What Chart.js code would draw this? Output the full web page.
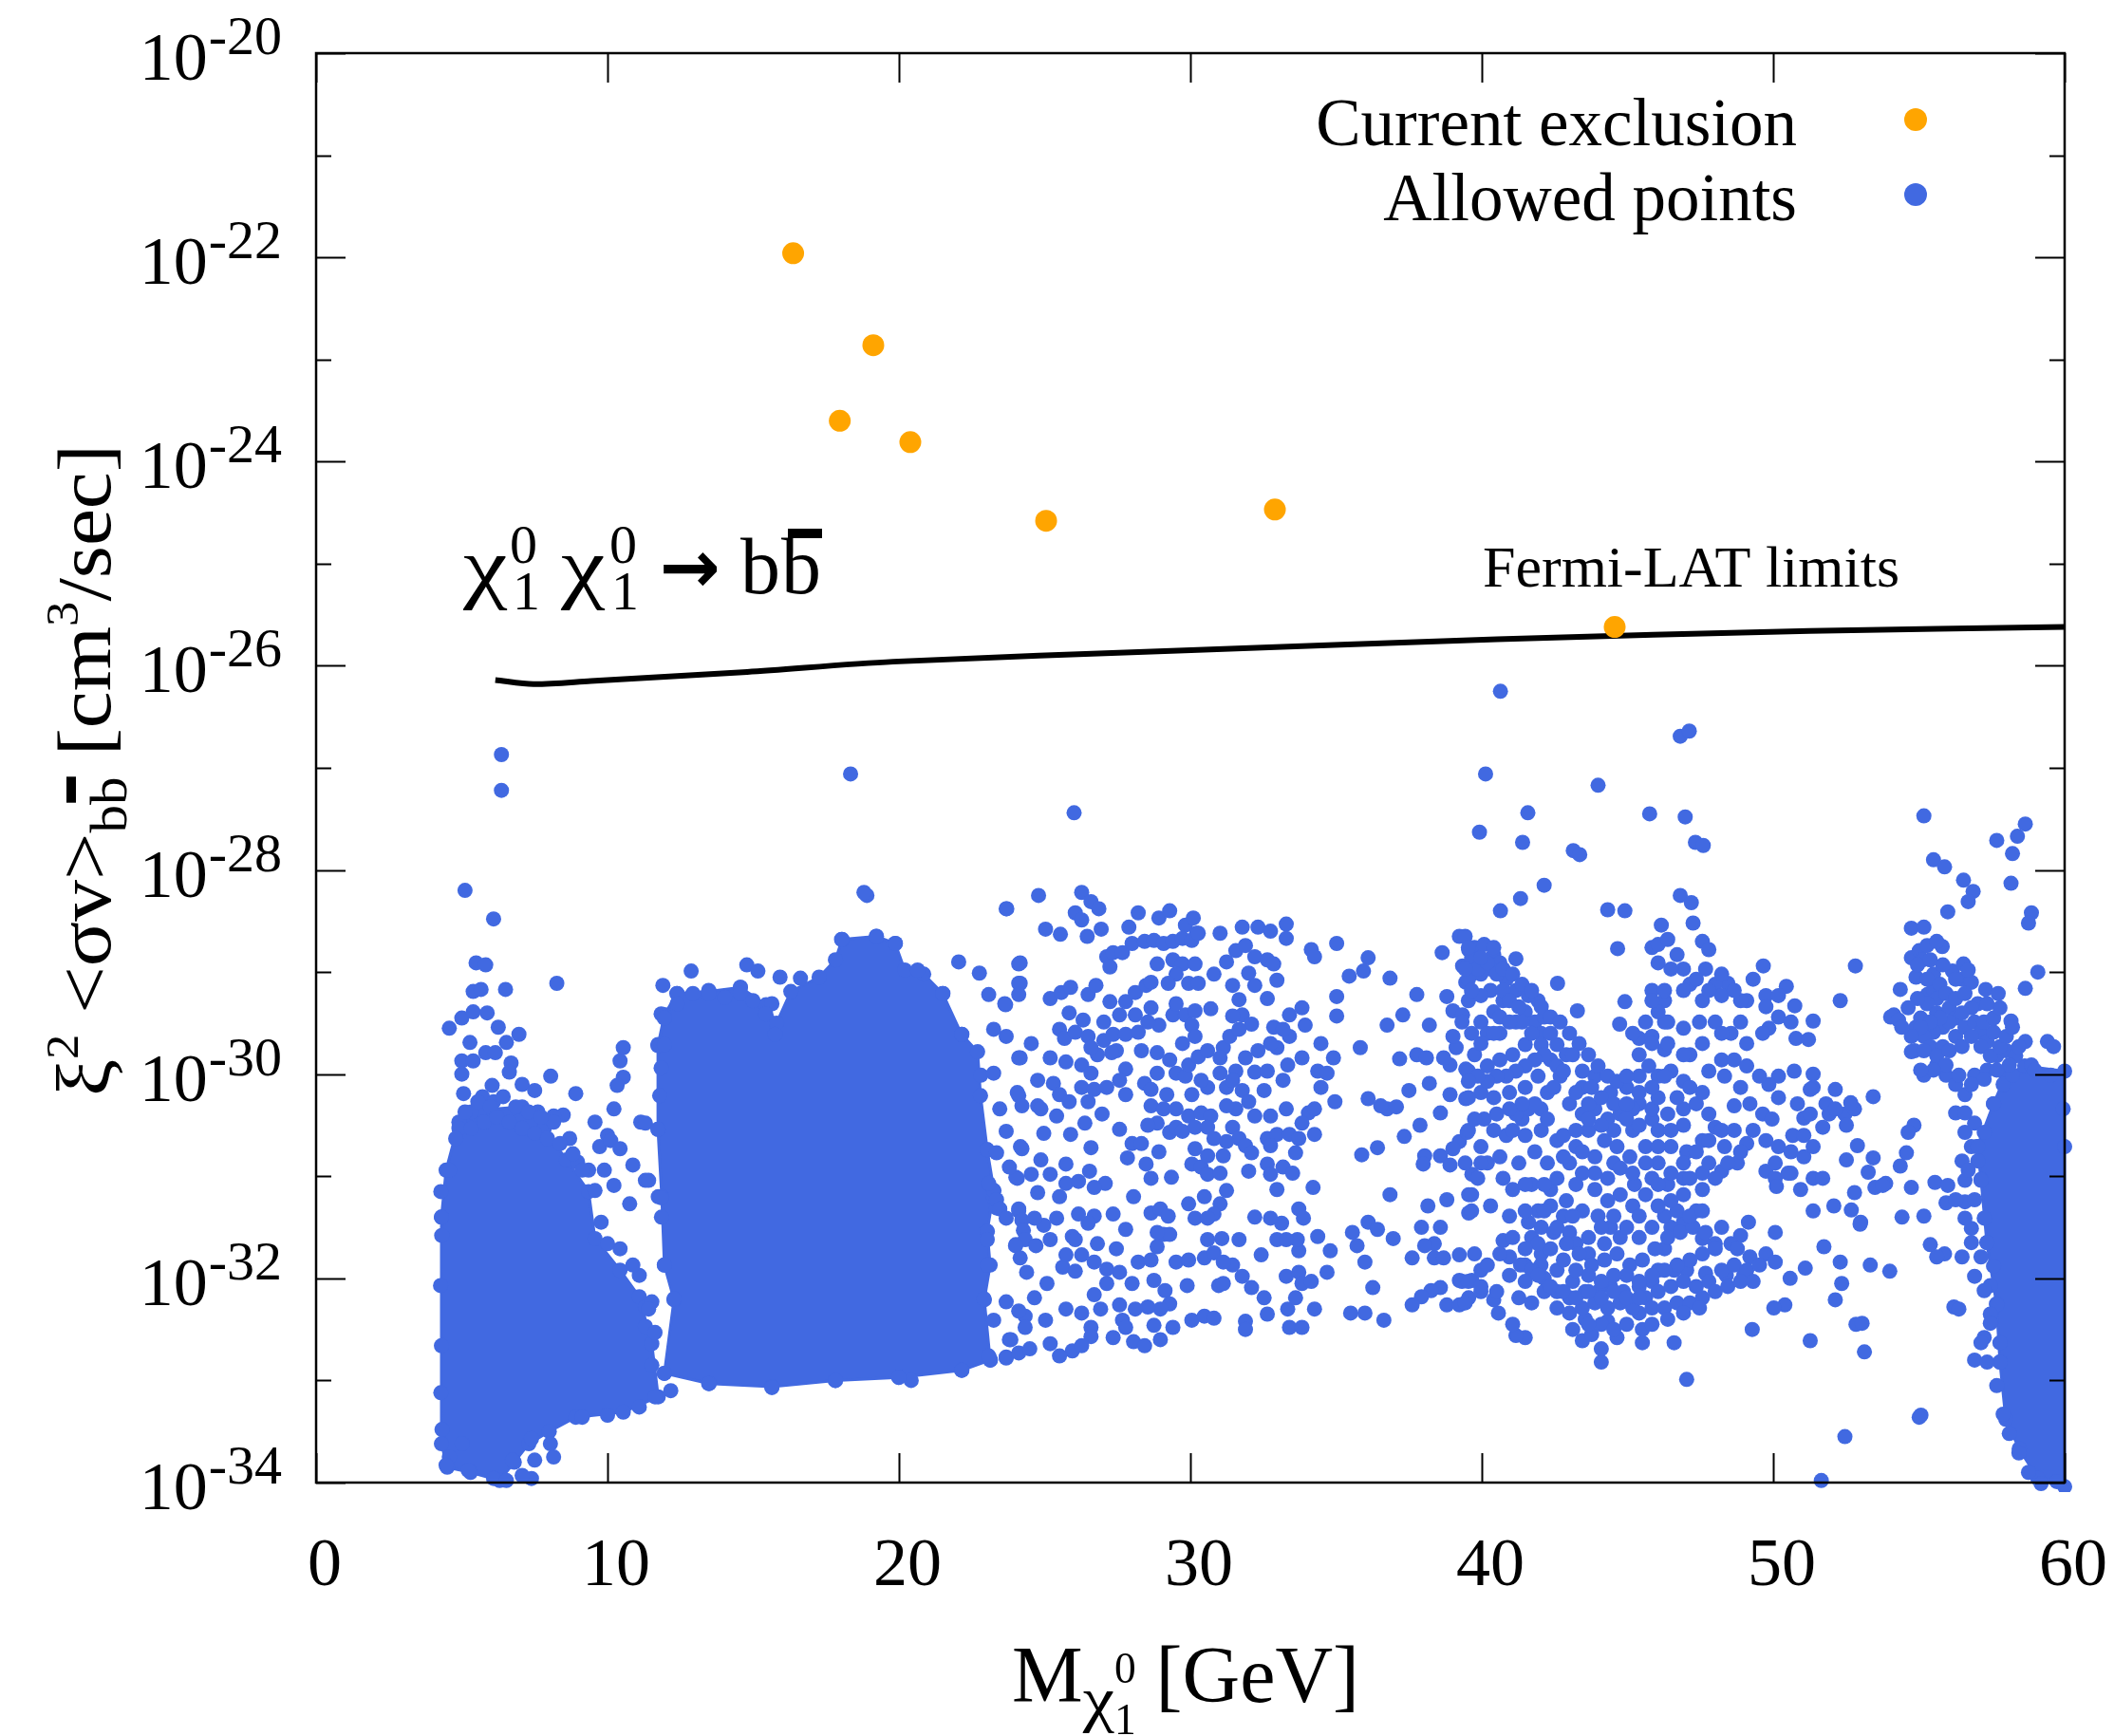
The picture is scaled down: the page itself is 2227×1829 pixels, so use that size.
<!DOCTYPE html>
<html>
<head>
<meta charset="utf-8">
<script src="https://cdn.jsdelivr.net/npm/chart.js@4.4.1/dist/chart.umd.min.js"></script>
<style>
  html, body { margin: 0; padding: 0; background: #fff; }
  #wrap { width: 2227px; height: 1829px; }
</style>
</head>
<body>
<div id="wrap"><canvas id="chart" width="2227" height="1829"></canvas></div>
<script>
var BLUE = '#4169e1';
var ORANGE = '#ffa500';
var SERIF = '"Liberation Serif", "Times New Roman", "DejaVu Serif", serif';

// axes
var xTicks = [0, 10, 20, 30, 40, 50, 60];
var yDecades = [-34, -33, -32, -31, -30, -29, -28, -27, -26, -25, -24, -23, -22, -21, -20];
var yLabelled = [-34, -32, -30, -28, -26, -24, -22, -20];

// excluded points: mass [GeV], log10 <sigma v>
var exclusionMass = [16.37, 19.12, 17.97, 20.39, 25.05, 32.90, 44.56];
var exclusionLogSigma = [-21.96, -22.86, -23.60, -23.81, -24.58, -24.47, -25.62];

// Fermi-LAT limit curve
var fermiMass = [6.15, 7.46, 9.43, 14.79, 19.80, 29.80, 40.52, 51.24, 60.0];
var fermiLogSigma = [-26.14, -26.18, -26.15, -26.06, -25.96, -25.85, -25.74, -25.66, -25.62];

// allowed points [mass, log10 <sigma v>], split by mass region
var allowedLowMass = [
  [6.36,-26.87],[6.36,-27.22],[5.11,-28.20],[6.09,-28.48],[5.49,-28.91],[5.82,-28.93],[8.26,-29.11],[5.39,-29.19],
  [5.66,-29.17],[6.50,-29.17],[4.57,-29.55],[5.00,-29.45],[5.39,-29.39],[5.87,-29.40],[5.28,-29.69],[6.25,-29.54],
  [6.53,-29.69],[6.96,-29.61],[5.00,-29.87],[5.39,-29.87],[5.00,-30.00],[5.82,-29.79],[6.15,-29.79],[6.69,-29.89],
  [6.63,-29.98],[8.05,-30.02],[8.91,-30.19],[5.06,-30.19],[6.04,-30.11],[5.71,-30.22],[7.07,-30.10],[7.50,-30.16],
  [8.48,-30.40],[8.15,-30.41],[8.97,-30.86],[9.57,-30.47],[10.00,-30.60],[10.22,-30.34],[10.54,-29.74],[10.43,-29.87],
  [10.54,-30.03],[10.33,-30.11],[11.14,-30.47],[9.73,-30.71],[10.11,-30.65],[10.43,-30.73],[9.89,-30.94],[10.22,-31.09],
  [10.87,-30.89],[11.30,-31.04],[10.76,-31.27],[11.74,-31.20],[11.85,-31.40],[12.17,-33.10],[8.15,-33.75],[7.50,-33.78],
  [4.57,-33.75],[7.39,-33.96],[4.46,-33.83],[5.01,-33.62],[5.22,-33.88],[6.09,-33.96],[6.53,-33.98],[7.07,-33.93],
  [6.74,-33.78],[7.39,-33.57],[8.04,-33.62],[9.13,-33.36],[10.00,-33.34],[11.09,-33.26],[11.63,-33.16],[11.52,-32.85],
  [11.30,-32.28],[11.52,-32.23],[11.09,-31.97],[10.87,-31.87],[10.43,-31.71],[10.00,-31.66],[9.78,-31.45],[4.57,-30.94],
  [4.90,-30.53],[5.33,-30.37],[6.09,-30.27],[7.61,-30.37],[8.15,-30.47],[8.70,-30.63],[9.35,-30.94],[9.57,-31.14],
  [4.28,-31.15],[4.31,-31.58],[4.27,-32.07],[4.30,-32.66],[4.28,-33.12],[4.32,-33.48],
  [5.11,-30.37],[5.55,-30.27],[5.98,-30.32],[6.42,-30.22],[6.85,-30.32],[7.29,-30.37],[7.72,-30.42],[4.79,-30.63],
  [5.33,-30.53],[5.77,-30.47],[6.20,-30.42],[6.63,-30.47],[7.07,-30.53],[7.50,-30.58],[7.94,-30.63],[8.37,-30.68],
  [8.81,-30.78],[9.13,-30.94]
];

var allowedMidMass = [
  [11.90,-29.13],[12.87,-28.99],[14.78,-28.93],[15.16,-28.99],[15.92,-29.05],[16.62,-29.06],[18.90,-28.25],[23.68,-28.38],
  [22.05,-28.90],[22.76,-29.01],[24.11,-28.92],[24.11,-29.11],[23.63,-29.31],[24.11,-29.84],[24.11,-30.21],[24.17,-30.71],
  [24.01,-31.01],[24.11,-31.34],[24.01,-31.67],[24.33,-32.37],[23.79,-32.60],[23.68,-32.77],[23.25,-31.21],[23.35,-31.31],
  [20.42,-33.00],[11.30,-30.48],[11.41,-31.04],[12.39,-29.21],[13.47,-29.18],[14.56,-29.15],[15.64,-29.31],[18.03,-28.68],
  [19.23,-28.65],[19.88,-28.72],[20.64,-28.98],[21.51,-29.21],[22.16,-29.61],[22.81,-30.01],[23.03,-30.74],[23.25,-31.14],
  [23.03,-31.54],[22.92,-32.20],[23.14,-32.80],[22.16,-32.90],[19.99,-32.97],[17.82,-33.00],[15.64,-33.07],[13.47,-33.03],
  [11.95,-32.93],[12.28,-32.20],[11.95,-31.87],[11.84,-31.21],[11.73,-30.54],[11.73,-29.71],[11.84,-29.41],[18.34,-27.06],
  [18.80,-28.22],[26.01,-27.44],[11.30,-32.47],[11.41,-32.30],[11.63,-32.53],
  [11.95,-29.45],[12.39,-29.31],[12.93,-29.21],[13.47,-29.21],[14.02,-29.25],[14.56,-29.21],[14.99,-29.28],[15.43,-29.41],
  [15.75,-29.61],[11.95,-29.71],[11.84,-29.94],[11.79,-30.21]
];

var allowedFlat = [
  [23.70,-28.38],[24.79,-28.25],[26.27,-28.22],[26.59,-28.31],[26.86,-28.38],[26.05,-28.42],[26.27,-28.49],[25.03,-28.58],
  [25.54,-28.63],[26.46,-28.65],[26.94,-28.58],[27.89,-28.56],[28.21,-28.42],[28.92,-28.47],[29.29,-28.40],[29.83,-28.54],
  [30.10,-28.47],[30.21,-28.62],[31.02,-28.62],[31.78,-28.56],[32.32,-28.56],[32.75,-28.60],[33.29,-28.53],[33.29,-28.67],
  [34.15,-28.78],[34.26,-28.85],[35.02,-28.72],[36.10,-28.86],[35.94,-28.99],[35.45,-29.04],[36.85,-29.06],[37.77,-29.22],
  [38.64,-28.81],[39.23,-28.65],[39.55,-28.78],[39.34,-28.94],[39.66,-29.02],[24.16,-28.91],[24.16,-29.11],[24.11,-29.22],
  [23.66,-29.32],[23.08,-29.22],[25.19,-29.26],[25.57,-29.20],[25.89,-29.15],[26.49,-29.22],[26.76,-29.13],[27.24,-29.29],
  [27.78,-29.29],[28.11,-29.20],[28.48,-29.13],[28.65,-29.10],[27.13,-28.85],[27.35,-28.81],[27.24,-28.95],[27.67,-28.81],
  [28.00,-28.72],[28.43,-28.70],[28.75,-28.69],[29.08,-28.72],[29.40,-28.70],[29.73,-28.67],[30.05,-28.69],[30.27,-28.62],
  [28.86,-28.92],[29.40,-28.88],[29.73,-28.92],[30.16,-28.92],[29.51,-29.02],[29.94,-29.11],[30.27,-29.11],[29.24,-29.11],
  [30.81,-29.02],[31.24,-28.90],[31.56,-28.79],[31.89,-28.74],[32.21,-28.85],[32.00,-29.01],[32.21,-29.13],[32.64,-28.88],
  [32.86,-28.92],[32.97,-29.08],[32.64,-29.26],[31.45,-29.13],[31.67,-29.27],[31.78,-29.42],[31.45,-29.43],[32.10,-29.51],
  [25.84,-29.40],[26.32,-29.47],[25.51,-29.56],[25.68,-29.65],[26.05,-29.59],[26.49,-29.63],[27.03,-29.67],[27.35,-29.61],
  [27.78,-29.61],[28.21,-29.59],[27.46,-29.77],[26.81,-29.81],[27.30,-29.79],[28.32,-29.77],[28.86,-29.79],[29.29,-29.86],
  [28.92,-29.52],[28.54,-29.49],[28.65,-29.35],[29.40,-29.42],[29.51,-29.31],[29.83,-29.42],[30.16,-29.38],[30.70,-29.36],
  [30.05,-29.52],[30.16,-29.63],[29.73,-29.70],[31.13,-29.74],[31.35,-29.63],[31.67,-29.56],[31.02,-29.84],[31.56,-29.97],
  [32.21,-29.98],[32.64,-29.97],[32.97,-29.74],[33.40,-29.63],[32.86,-29.54],[33.94,-29.52],[34.48,-29.70],[34.37,-29.97],
  [33.34,-29.91],[24.16,-29.84],[24.76,-30.06],[25.30,-30.09],[25.51,-30.20],[25.84,-30.27],[24.06,-30.18],[24.22,-30.31],
  [24.76,-30.31],[25.73,-29.88],[26.27,-29.91],[26.59,-29.99],[26.27,-30.13],[26.70,-30.15],[27.78,-29.95],[27.57,-30.06],
  [27.78,-30.20],[28.43,-30.09],[28.65,-30.15],[28.86,-29.99],[28.65,-30.31],[29.19,-30.20],[29.51,-29.99],[29.83,-30.02],
  [30.05,-30.20],[29.94,-29.91],[30.27,-29.83],[30.59,-30.13],[30.37,-30.06],[31.24,-30.13],[31.78,-30.16],[32.00,-30.27],
  [31.56,-30.34],[31.24,-30.31],[29.08,-30.34],[29.51,-30.34],[29.94,-30.41],[30.37,-30.38],[30.70,-30.41],[28.86,-30.48],
  [28.54,-30.50],[29.29,-30.57],[29.51,-30.52],[29.73,-30.56],[30.16,-30.52],[30.59,-30.52],[30.81,-30.63],[31.45,-30.52],
  [31.67,-30.63],[31.24,-30.66],[26.97,-30.39],[26.38,-30.48],[25.89,-30.59],[24.97,-30.58],[27.57,-30.54],[24.22,-30.73],
  [24.87,-30.84],[25.73,-30.88],[26.59,-30.72],[26.54,-30.95],[27.08,-31.07],[26.70,-31.11],[25.73,-31.07],[26.16,-31.05],
  [25.51,-31.20],[24.06,-31.02],[23.08,-31.07],[23.35,-31.23],[23.46,-31.32],[27.84,-30.82],[28.00,-30.68],[28.32,-30.68],
  [28.92,-30.76],[28.48,-30.88],[28.65,-31.02],[29.35,-31.01],[28.05,-31.20],[30.16,-30.73],[30.05,-30.88],[30.37,-30.91],
  [30.59,-30.98],[31.02,-30.97],[31.13,-30.80],[30.59,-30.80],[31.89,-30.70],[32.10,-30.77],[32.00,-30.95],[32.64,-30.63],
  [32.97,-30.59],[33.40,-30.59],[33.72,-30.63],[33.61,-30.77],[32.75,-30.70],[32.64,-30.88],[32.75,-30.98],[33.18,-30.91],
  [33.51,-30.97],[32.97,-31.13],[34.26,-30.59],[34.05,-30.38],[34.21,-31.11],[29.94,-31.27],[30.48,-31.20],[31.02,-31.27],
  [31.24,-31.14],[30.81,-31.37],[30.16,-31.41],[30.59,-31.41],[32.21,-31.40],[33.13,-31.46],[33.72,-31.32],[33.88,-31.41],
  [28.65,-31.36],[28.97,-31.32],[29.24,-31.39],[27.78,-31.52],[27.35,-31.37],[26.70,-31.39],[26.49,-31.46],[26.16,-31.37],
  [25.41,-31.41],[24.97,-31.48],[24.11,-31.32],[24.22,-31.43],[24.27,-31.53],[24.33,-31.62],[24.00,-31.68],[24.70,-31.68],
  [24.16,-31.80],[24.38,-31.94],[23.03,-31.62],[23.03,-31.87],[25.95,-31.59],[26.05,-31.62],[26.81,-31.66],[27.46,-31.71],
  [26.70,-31.84],[25.62,-31.89],[26.05,-31.93],[28.21,-31.84],[28.65,-31.82],[28.86,-31.69],[29.08,-31.57],[29.29,-31.57],
  [28.86,-31.55],[29.51,-31.84],[29.94,-31.82],[30.48,-31.80],[30.81,-31.75],[31.08,-31.61],[31.67,-31.62],[31.45,-31.87],
  [31.78,-31.98],[32.10,-32.09],[32.53,-32.19],[32.64,-32.35],[33.29,-31.98],[33.72,-31.94],[33.83,-32.05],[34.15,-32.03],
  [33.72,-31.73],[33.67,-31.62],[34.80,-31.73],[28.75,-32.02],[29.13,-32.12],[29.29,-32.25],[28.97,-32.30],[28.54,-32.28],
  [29.89,-32.07],[30.97,-32.07],[31.13,-32.05],[27.57,-32.26],[27.67,-32.41],[27.78,-32.48],[26.59,-32.48],[26.59,-32.57],
  [26.70,-32.16],[25.03,-32.41],[24.11,-32.32],[24.33,-32.48],[23.84,-32.60],[23.68,-32.78],[24.11,-32.73],[24.49,-32.69],
  [25.19,-32.64],[25.95,-32.71],[23.08,-32.76],[28.05,-32.62],[28.43,-32.66],[28.97,-32.60],[28.75,-32.46],[29.40,-32.48],
  [30.05,-32.41],[30.48,-32.37],[30.81,-32.39],[31.89,-32.42],[31.89,-32.50],[33.34,-32.30],[33.40,-32.48],[33.83,-32.48],
  [35.56,-31.55],[35.50,-32.34],[35.99,-32.34],[36.64,-32.41],[35.72,-31.68],[36.10,-31.45],[36.42,-31.52],[35.99,-31.84],
  [36.26,-32.09],[36.96,-31.61],[36.85,-31.18],[35.88,-30.79],[36.42,-30.72],[37.34,-30.61],[37.88,-30.50],[36.75,-30.34],
  [36.10,-30.24],[36.53,-30.31],[37.07,-30.32],[34.96,-30.27],[35.02,-29.24],[35.02,-29.43],[35.83,-29.74],[37.18,-29.85],
  [37.77,-29.81],[38.10,-29.84],[37.50,-30.16],[38.20,-30.09],[38.20,-29.52],[37.29,-29.42],[36.75,-29.52],[38.58,-30.38],
  [38.91,-30.20],[38.91,-29.91],[38.69,-29.84],[39.12,-29.74],[39.01,-29.63],[38.80,-29.24],[39.01,-29.38],[39.34,-29.42],
  [39.45,-29.10],[39.66,-29.20],[39.45,-29.95],[39.55,-29.99],[39.45,-30.24],[39.23,-30.66],[39.50,-30.57],[39.01,-30.73],
  [39.66,-30.98],[39.55,-31.18],[39.55,-31.36],[38.80,-31.23],[38.15,-31.29],[38.04,-30.80],[38.58,-30.80],[38.91,-30.89],
  [37.99,-30.88],[37.93,-31.50],[38.58,-31.50],[38.37,-31.66],[38.04,-31.68],[37.61,-31.80],[38.37,-31.80],[38.69,-31.80],
  [39.23,-31.77],[39.23,-32.02],[39.66,-32.02],[38.58,-32.09],[38.26,-32.12],[37.93,-32.18],[38.80,-32.26],[37.61,-32.26],
  [39.23,-32.26],[39.55,-32.19],
  [23.25,-29.99],[23.46,-30.34],[23.68,-30.56],[23.35,-30.77],[23.79,-30.91],[24.54,-30.98],[25.19,-30.98],[24.76,-31.16],
  [23.68,-31.41],[24.65,-31.41],[25.19,-31.62],[25.73,-31.77],[26.27,-31.77],[25.08,-32.05],[24.65,-32.19],[23.68,-32.23],
  [23.25,-32.41],[25.73,-32.30],[26.27,-32.34],[26.92,-32.30],[27.13,-32.05],[27.57,-31.94],[27.13,-31.91],[28.00,-32.05],
  [28.11,-32.30],[27.35,-32.58],[26.27,-32.66],[25.51,-32.76],[24.87,-30.34],[25.41,-30.41],[26.49,-30.27],[27.13,-30.13],
  [25.19,-29.84],[24.54,-29.70],[23.68,-29.63],[23.25,-29.56],[26.59,-29.74],[27.03,-29.49],[27.57,-29.42],[28.11,-29.42],
  [30.59,-29.77],[31.02,-29.99],[31.45,-30.06],[31.89,-29.84],[32.32,-29.77],[32.75,-29.70],[33.18,-29.56],[33.40,-29.42],
  [33.83,-29.35],[33.83,-29.84],[33.18,-30.06],[32.53,-30.16],[32.21,-30.41],[32.75,-30.41],[33.29,-30.34],[33.83,-30.48],
  [34.26,-30.34],[34.48,-30.13],[34.69,-29.99],[34.91,-29.84],[30.59,-31.62],[31.13,-31.84],[32.43,-31.77],[32.97,-31.62],
  [32.75,-31.41],[33.29,-31.62],[34.37,-31.59],[34.69,-31.94],[34.26,-32.30],[33.61,-32.19]
];

var allowedZPole = [
  [40.64,-26.25],[40.13,-27.06],[39.92,-27.63],[41.58,-27.44],[41.40,-27.73],[43.99,-27.17],[43.14,-27.81],[43.36,-27.85],
  [42.14,-28.15],[41.33,-28.28],[40.64,-28.40],[45.76,-27.45],[46.98,-27.48],[46.81,-26.69],[47.12,-26.64],[47.33,-27.73],
  [47.60,-27.76],[46.81,-28.25],[47.19,-28.32],[44.32,-28.39],[44.91,-28.40],[47.25,-28.52],[46.16,-28.54],[44.66,-28.77],
  [41.17,-28.87],[42.60,-29.11],[43.28,-29.38],[44.91,-29.29],[44.73,-29.51],[52.82,-28.94],[52.30,-29.28],[49.66,-28.94],
  [50.45,-29.14],[50.74,-29.33],[51.37,-29.48],[50.78,-29.65],[51.21,-29.66],[48.44,-29.11],[49.09,-29.28],[49.75,-29.23],
  [50.18,-29.44],[49.85,-29.55],[45.84,-28.76],[46.05,-28.73],[46.38,-28.68],[46.70,-28.83],[46.92,-28.97],[47.57,-28.70],
  [47.79,-28.78],[47.68,-28.97],[48.01,-29.12],[45.84,-29.18],[46.27,-29.28],[47.14,-29.12],[47.57,-29.28],[48.23,-29.23],
  [48.88,-29.28],[46.38,-29.49],[46.92,-29.55],[47.47,-29.49],[48.01,-29.49],[48.55,-29.60],[49.09,-29.70],[48.23,-29.86],
  [47.79,-29.97],[47.14,-29.81],[45.40,-29.65],[45.84,-29.63],[46.27,-29.76],[45.73,-29.92],[46.05,-30.02],[46.49,-29.97],
  [46.92,-30.07],[48.66,-29.86],[48.33,-30.02],[49.09,-29.92],[50.18,-30.02],[50.72,-29.97],[51.37,-30.00],[52.13,-30.15],
  [51.37,-30.13],[49.85,-30.10],[49.20,-30.29],[48.66,-30.31],[49.64,-30.39],[49.96,-30.44],[51.05,-30.43],[51.70,-30.52],
  [51.92,-30.39],[52.46,-30.39],[52.79,-30.34],[52.51,-30.50],[48.01,-30.52],[47.57,-30.65],[48.33,-30.71],[47.03,-30.76],
  [46.49,-30.71],[46.05,-30.87],[46.92,-30.50],[46.38,-30.39],[45.84,-30.44],[45.40,-30.29],[45.18,-30.55],[45.62,-30.71],
  [46.05,-30.55],[49.09,-30.68],[48.77,-30.87],[48.23,-30.95],[47.57,-30.97],[46.92,-31.02],[46.38,-31.08],[45.84,-31.02],
  [45.24,-31.08],[49.75,-30.95],[50.07,-31.02],[50.61,-30.97],[51.05,-30.81],[51.37,-30.71],[50.67,-30.60],[50.07,-30.87],
  [50.51,-30.97],[50.94,-31.13],[51.37,-31.02],[51.70,-31.02],[52.51,-30.84],[52.79,-31.16],[53.00,-31.45],[51.37,-31.34],
  [52.08,-31.29],[52.68,-31.33],[50.07,-31.55],[49.15,-31.45],[48.88,-31.58],[48.55,-31.66],[51.10,-31.90],[52.30,-31.84],
  [52.35,-32.05],[52.13,-32.21],[52.84,-32.45],[50.40,-32.26],[48.99,-31.97],[48.39,-31.97],[47.68,-31.95],[47.03,-31.92],
  [46.60,-31.92],[49.75,-31.76],[50.07,-31.84],[49.20,-31.79],[48.77,-31.71],[48.23,-31.50],[48.01,-31.66],[47.57,-31.61],
  [47.36,-31.34],[46.92,-31.45],[46.49,-31.50],[46.27,-31.71],[46.05,-31.92],[45.84,-32.03],[45.40,-32.08],[44.86,-32.13],
  [44.42,-32.08],[43.99,-32.13],[43.55,-32.13],[43.12,-32.03],[42.58,-31.92],[42.03,-31.87],[41.49,-31.87],[45.40,-32.34],
  [45.51,-32.50],[45.51,-32.63],[46.60,-32.63],[47.03,-32.99],[44.10,-32.82],[44.10,-32.69],[43.45,-32.61],[43.77,-32.55],
  [44.32,-32.42],[44.64,-32.58],[43.55,-32.40],[41.49,-32.58],[41.17,-32.56],[41.06,-32.45],[40.57,-32.34],[40.41,-32.21],
  [39.97,-32.13],[39.43,-32.24],[39.32,-32.03],[39.54,-32.03],[39.97,-31.92],[40.73,-31.63],[40.95,-31.79],[41.33,-31.87],
  [41.71,-31.92],[42.14,-32.00],[42.58,-32.13],[43.01,-32.19],[42.04,-31.76],[41.71,-31.60],[41.60,-31.45],[41.93,-31.34],
  [42.36,-31.29],[42.80,-31.39],[43.01,-31.55],[43.23,-31.66],[43.66,-31.76],[44.21,-31.66],[44.75,-31.60],[44.42,-31.50],
  [43.99,-31.39],[43.45,-31.34],[42.90,-31.24],[42.36,-31.13],[41.71,-31.08],[41.06,-31.13],[40.30,-31.29],[39.65,-31.34],
  [39.65,-31.18],[39.86,-31.02],[39.43,-30.87],[40.19,-30.87],[40.62,-30.81],[41.27,-30.87],[41.82,-30.76],[42.25,-30.87],
  [42.58,-30.65],[42.04,-30.55],[41.38,-30.44],[40.84,-30.60],[39.97,-30.71],[39.54,-30.55],[43.45,-30.39],[43.88,-30.34],
  [44.32,-30.44],[44.75,-30.39],[45.18,-30.34],[43.66,-30.55],[44.21,-30.65],[44.64,-30.71],[45.08,-30.81],[44.53,-30.87],
  [43.88,-30.81],[43.23,-30.71],[42.80,-30.60],[43.01,-30.29],[43.45,-30.13],[43.88,-30.02],[44.42,-30.18],[44.97,-30.13],
  [45.40,-30.02],[39.43,-28.65],[39.75,-28.76],[40.08,-28.73],[40.41,-28.83],[40.62,-28.91],[40.30,-28.97],[39.97,-29.02],
  [39.54,-29.07],[40.84,-29.07],[41.17,-29.18],[40.73,-29.28],[40.41,-29.39],[39.97,-29.49],[39.54,-29.28],[39.32,-29.49],
  [40.19,-29.60],[40.62,-29.60],[41.17,-29.49],[41.49,-29.39],[41.82,-29.49],[42.03,-29.60],[41.49,-29.71],[41.06,-29.81],
  [40.62,-29.86],[40.19,-29.92],[39.75,-29.81],[39.54,-29.97],[39.97,-30.18],[40.41,-30.23],[40.95,-30.18],[41.49,-30.13],
  [41.93,-30.02],[42.36,-29.86],[42.58,-29.71],[42.90,-29.81],[42.69,-30.02],[42.25,-30.18],[42.03,-30.34],[41.60,-30.34],
  [41.17,-30.39],[41.93,-29.28],[42.14,-29.44],[39.54,-30.23],[52.46,-33.55],[51.65,-33.98],[50.11,-31.10],[51.27,-30.15],
  [52.66,-30.28],[52.89,-30.70],[53.26,-30.96],[50.58,-32.00],[51.74,-31.69],[52.98,-31.47],[53.86,-31.07],[54.00,-31.93],
  [53.13,-32.72],[51.27,-32.61],[50.02,-32.29],[49.28,-32.50],
  [39.65,-28.86],[39.86,-28.97],[40.19,-28.91],[40.51,-29.02],[40.30,-29.18],[39.97,-29.23],[39.65,-29.18],[39.43,-28.97],
  [40.73,-29.18],[40.95,-29.28],[41.27,-29.34],[41.60,-29.23],[41.38,-29.49],[41.71,-29.60],[42.04,-29.71],[42.36,-29.60],
  [42.14,-29.81],[41.82,-29.86],[41.49,-29.92],[41.17,-29.97],[40.84,-30.02],[40.51,-30.02],[40.19,-30.07],[39.86,-30.02],
  [39.54,-30.07],[40.62,-29.44],[40.95,-29.49],[40.41,-29.60],[39.97,-29.70],[39.65,-29.60],[42.58,-29.92],[42.80,-29.97],
  [42.47,-30.13],[42.25,-30.44],[41.82,-30.29],[41.38,-30.29],[40.95,-30.34],[40.51,-30.39],[40.08,-30.44],[39.75,-30.44],
  [40.41,-30.55],[41.06,-30.55],[41.49,-30.60],[39.97,-30.87],[40.73,-31.02],[41.49,-31.08],
  [43.23,-30.18],[43.66,-30.29],[44.10,-30.23],[44.53,-30.29],[44.97,-30.44],[45.40,-30.50],[45.84,-30.34],[46.05,-30.23],
  [46.27,-30.02],[45.84,-30.13],[45.40,-30.18],[44.97,-30.29],[44.53,-30.55],[44.10,-30.50],[43.66,-30.44],[43.23,-30.55],
  [43.45,-30.76],[43.88,-30.97],[44.32,-31.02],[44.75,-30.92],[45.18,-30.97],[45.62,-30.87],[46.05,-30.71],[46.49,-30.55],
  [46.92,-30.34],[47.36,-30.29],[47.79,-30.39],[47.57,-30.18],[47.14,-30.13],[46.70,-30.23],[45.40,-29.81],[45.84,-29.70],
  [46.27,-29.49],[46.05,-29.39],[45.84,-29.28],[46.27,-29.18],[45.62,-29.49],[45.18,-29.60],
  [42.04,-31.50],[42.47,-31.55],[42.90,-31.66],[43.34,-31.76],[43.77,-31.87],[44.21,-31.82],[44.64,-31.76],[45.08,-31.87],
  [45.51,-31.82],[45.94,-31.71],[46.38,-31.60],[46.81,-31.55],[47.25,-31.50],[47.68,-31.55],[48.01,-31.71],[47.57,-31.76],
  [47.14,-31.82],[46.70,-31.87],[46.27,-31.92],[45.84,-31.97],[45.40,-32.03],[44.97,-31.97],[44.53,-31.97],[44.10,-32.03],
  [43.66,-31.97],[43.23,-31.92],[42.80,-31.82],[42.36,-31.71],[41.93,-31.66],[41.49,-31.71],[41.06,-31.60],[40.62,-31.76],
  [40.19,-31.87],[39.75,-31.76],[42.14,-32.13],[42.58,-32.29],[43.01,-32.34],[43.45,-32.29],[43.88,-32.24],[44.32,-32.29],
  [44.75,-32.24],[45.18,-32.29],[45.62,-32.19],[46.05,-32.13],[46.49,-32.08],[46.92,-32.03],[47.36,-32.08],[47.79,-32.03],
  [48.23,-31.92],[48.66,-31.87],[49.09,-31.92],[49.53,-31.87],[44.10,-32.45],[44.53,-32.50],[44.97,-32.45],[43.66,-31.60],
  [44.10,-31.50],[44.53,-31.39],[44.97,-31.50],[45.40,-31.60],[45.84,-31.50],[46.27,-31.39],[46.70,-31.34],[47.14,-31.39],
  [47.57,-31.34],[42.58,-31.50],[43.12,-31.39],[42.14,-31.34],[41.49,-31.34],[40.95,-31.39],
  [46.05,-28.91],[46.49,-28.97],[46.92,-29.18],[47.36,-29.07],[47.79,-29.18],[48.23,-29.02],[48.66,-29.18],[49.31,-29.07],
  [49.75,-29.34],[50.18,-29.23],[50.61,-29.49],[49.64,-29.60],[48.88,-29.49],[48.23,-29.60],[47.57,-29.70],[46.92,-29.81],
  [46.38,-29.70],[48.88,-30.13],[49.53,-30.02],[50.18,-30.23],[50.83,-30.29],[51.27,-30.39],[51.81,-30.29],[52.13,-30.34],
  [43.01,-30.87],[43.45,-30.97],[43.88,-31.13],[44.32,-31.24],[44.75,-31.18],[45.18,-31.29],[45.62,-31.18],[46.05,-31.08],
  [46.49,-30.97],[46.92,-30.87],[47.36,-30.76],[47.79,-30.65],[48.23,-30.55],[48.66,-30.55],[46.05,-31.29],[46.92,-31.18],
  [47.57,-31.13],[48.01,-31.02],[48.44,-30.87],[48.88,-30.76],[49.31,-30.55],[49.75,-30.65],[50.18,-30.71],[50.61,-30.76],
  [51.05,-30.60],[43.23,-31.08],[42.58,-31.02],[42.14,-31.08],[42.80,-30.81],[45.40,-31.39],[46.49,-31.24],[47.14,-31.02],
  [47.79,-30.87],
  [39.54,-28.76],[39.97,-28.86],[40.41,-28.76],[40.73,-28.97],[41.06,-29.02],[41.38,-29.12],[41.71,-29.18],[42.04,-29.34],
  [42.36,-29.44],[42.69,-29.49],[43.01,-29.60],[43.34,-29.70],[43.66,-29.81],[43.99,-29.92],[44.32,-30.02],[44.64,-30.07],
  [44.97,-30.02],[43.12,-29.81],[43.45,-29.97],[43.77,-30.13],
  [40.95,-31.97],[41.49,-32.03],[41.93,-31.97],[42.36,-32.08],[42.80,-32.13],[43.23,-32.19],[43.66,-32.13],[44.10,-32.19],
  [44.53,-32.13],[44.97,-32.19],[45.40,-32.19],[45.84,-32.29],[46.27,-32.29],[46.70,-32.24],[47.14,-32.24],[47.57,-32.19],
  [48.01,-32.13],[48.44,-32.08],[48.88,-32.03],[49.31,-32.03],[43.12,-32.50],[43.66,-32.45],[45.84,-32.45],[46.38,-32.40],
  [46.92,-32.34],[47.47,-32.29],[40.51,-32.13],[39.97,-32.08],[41.27,-32.19],[41.71,-32.24]
];

var allowedHiggsPole = [
  [54.14,-29.42],[55.29,-29.22],[54.74,-29.78],[54.42,-31.40],[54.83,-30.50],[55.07,-33.34],
  [55.17,-27.47],[55.50,-27.90],[55.88,-27.97],[56.53,-28.10],[56.86,-28.21],[56.69,-28.31],[55.99,-28.41],[54.74,-28.57],
  [55.17,-28.56],[54.74,-28.86],[55.01,-28.79],[55.12,-28.88],[55.80,-28.75],[54.90,-29.05],[54.36,-29.17],[54.03,-29.44],
  [54.30,-29.47],[55.50,-29.02],[56.15,-28.99],[56.53,-28.92],[56.48,-29.07],[56.80,-29.10],[57.29,-29.17],[57.72,-29.21],
  [57.67,-27.71],[58.21,-27.84],[58.16,-28.13],[58.38,-27.67],[58.65,-27.55],[58.86,-28.42],[58.76,-28.52],[59.08,-29.00],
  [58.65,-29.16],[58.16,-29.48],[55.50,-29.17],[55.61,-29.26],[55.28,-29.31],[55.06,-29.45],[55.61,-29.40],[56.04,-29.35],
  [56.26,-29.45],[55.82,-29.54],[55.50,-29.59],[55.17,-29.63],[54.90,-29.54],[54.85,-29.77],[55.39,-29.73],[55.82,-29.73],
  [56.26,-29.63],[56.58,-29.54],[56.91,-29.49],[57.13,-29.59],[57.34,-29.68],[57.56,-29.59],[57.02,-29.31],[57.23,-29.49],
  [55.17,-30.01],[55.61,-29.91],[55.93,-30.01],[56.26,-30.10],[56.58,-30.20],[56.91,-30.01],[57.34,-29.96],[57.67,-29.82],
  [58.00,-29.77],[58.32,-29.82],[58.65,-29.68],[58.86,-29.91],[59.41,-29.68],[59.62,-29.73],[53.43,-30.22],[54.63,-30.57],
  [54.57,-30.77],[54.36,-30.90],[53.43,-30.82],[53.49,-31.11],[53.76,-31.09],[54.74,-31.11],[55.55,-31.06],[55.99,-31.09],
  [55.93,-31.26],[56.58,-31.25],[55.17,-31.39],[55.39,-31.67],[55.88,-31.76],[55.61,-31.79],[53.33,-31.87],[53.05,-32.44],
  [56.20,-32.28],[56.37,-32.30],[57.24,-32.58],[57.13,-32.63],[56.91,-32.80],[55.01,-33.36],[56.58,-31.04],[56.80,-31.51],
  [57.13,-31.79],[57.45,-32.07],[56.48,-30.85],[56.80,-30.71],[56.58,-30.57],[56.26,-30.38],[57.13,-31.04],[57.02,-30.71],
  [57.34,-31.65],[57.56,-31.88],[57.67,-32.26],[57.78,-32.63],[57.67,-33.05],[57.89,-33.33],[58.10,-33.52],[58.43,-33.71],
  [58.76,-33.90],[59.19,-34.01],[59.73,-33.99],[57.78,-32.82],[57.45,-32.35],[57.89,-30.10],[58.21,-30.01],[58.97,-29.96],
  [59.52,-30.01],[59.95,-30.34],[60.00,-30.71],
  [54.95,-28.93],[55.28,-29.07],[55.72,-29.12],[55.93,-29.21],[56.26,-29.26],[56.58,-29.21],[56.80,-29.35],[56.48,-29.40],
  [56.04,-29.49],[55.72,-29.45],[55.39,-29.49],[55.06,-29.54],[54.74,-29.63],[55.17,-29.77],[55.61,-29.82],[56.04,-29.77],
  [56.48,-29.73],[56.80,-29.63],[57.13,-29.73],[57.45,-29.82],[57.78,-29.73],[58.00,-29.63],[58.21,-29.54],[58.43,-29.73],
  [58.10,-29.91],[57.67,-29.96],[57.24,-30.05],[56.80,-30.10],[56.37,-30.01],[55.93,-29.91],[55.50,-29.96],[55.06,-29.96],
  [57.56,-29.45],[57.78,-29.35],[57.34,-29.31],[56.69,-28.98],[56.26,-29.07],[55.82,-28.93],[55.39,-28.88],[55.28,-28.74],
  [55.61,-28.70],[54.95,-29.26],[54.63,-29.35],[54.41,-29.54],
  [56.58,-30.38],[56.91,-30.48],[57.24,-30.57],[57.02,-30.85],[56.69,-30.94],[56.91,-31.23],[57.24,-31.41],[56.80,-31.65],
  [56.58,-31.41],[56.26,-31.23],[56.48,-31.79],[56.91,-31.98],[57.24,-32.12],[57.45,-32.44],[57.34,-32.82]
];

// outlines of regions where allowed points overlap into a solid patch
var denseLowMass = [
  [4.30,-31.40],[4.46,-30.94],[4.90,-30.47],[5.66,-30.35],[7.07,-30.32],[7.83,-30.53],[8.59,-30.84],[9.35,-31.15],
  [9.57,-31.61],[10.43,-31.92],[11.09,-32.18],[11.52,-32.64],[11.74,-33.16],[10.54,-33.31],[8.91,-33.36],[8.00,-33.50],
  [7.30,-33.62],[6.80,-33.80],[6.30,-33.98],[5.30,-33.90],[4.50,-33.85],[4.30,-33.62],[4.30,-31.40]
];
var denseMidMass = [
  [11.95,-29.42],[12.38,-29.21],[13.49,-29.19],[14.56,-29.15],[15.44,-29.32],[15.80,-29.50],[16.29,-29.19],[17.26,-29.05],
  [17.82,-28.88],[18.05,-28.68],[19.22,-28.65],[19.87,-28.72],[20.20,-28.98],[20.85,-29.02],[21.50,-29.21],[22.15,-29.61],
  [22.70,-29.78],[22.80,-30.21],[23.03,-30.74],[23.26,-31.14],[23.03,-31.54],[23.13,-31.87],[22.93,-32.21],[23.13,-32.80],
  [22.15,-32.90],[20.00,-32.97],[17.82,-33.00],[15.64,-33.06],[13.49,-33.03],[11.95,-32.93],[12.28,-32.21],[11.95,-31.87],
  [11.86,-31.20],[11.73,-30.54],[11.73,-29.72],[11.95,-29.42]
];
var denseHiggsPole = [
  [57.56,-30.29],[57.98,-30.01],[58.63,-29.92],[60.00,-29.97],[60.00,-34.04],[59.08,-33.96],[58.44,-33.67],[57.98,-33.38],
  [57.78,-32.82],[57.66,-32.25],[57.33,-31.65],[57.13,-31.03],[57.00,-30.71],[57.56,-30.29]
];

function toXY(pairs) {
  return pairs.map(function (p) {
    return { x: p[0], y: Math.pow(10, p[1]) };
  });
}

function zipXY(masses, logs) {
  return masses.map(function (m, i) {
    return { x: m, y: Math.pow(10, logs[i]) };
  });
}

function font(size, family, weight) {
  return (weight ? weight + ' ' : '') + size + 'px ' + (family || SERIF);
}

function drawText(ctx, str, x, y, size, opts) {
  opts = opts || {};
  ctx.save();
  ctx.translate(x, y);
  if (opts.sx) ctx.scale(opts.sx, 1);
  ctx.font = font(size, opts.family, opts.weight);
  ctx.textAlign = opts.align || 'left';
  ctx.textBaseline = 'alphabetic';
  if (opts.maxWidth) {
    ctx.fillText(str, 0, 0, opts.maxWidth);
  } else {
    ctx.fillText(str, 0, 0);
  }
  ctx.restore();
}

// draws runs of text (with sub/superscripts) from 0,0 on the current baseline, squeezed to fitWidth
function drawRuns(ctx, runs, fitWidth) {
  var total = 0;
  runs.forEach(function (r) {
    ctx.font = font(r.size);
    r.width = ctx.measureText(r.text).width * (r.sx || 1);
    if (!r.stack) total += r.width;
  });
  var k = fitWidth / total;
  ctx.save();
  ctx.scale(k, 1);
  ctx.textAlign = 'left';
  ctx.textBaseline = 'alphabetic';
  var x = 0;
  runs.forEach(function (r) {
    ctx.save();
    ctx.translate(x, r.dy || 0);
    if (r.sx) ctx.scale(r.sx, 1);
    ctx.font = font(r.size);
    ctx.fillText(r.text, 0, 0);
    ctx.restore();
    if (r.bar) {
      ctx.fillRect(x + r.bar[0], r.bar[1], r.bar[2], r.bar[3]);
    }
    if (!r.stack) x += r.width;
  });
  ctx.restore();
}

var decorations = {
  id: 'decorations',
  afterDatasetsDraw: function (chart) {
    var ctx = chart.ctx;
    var area = chart.chartArea;
    var xs = chart.scales.x;
    var ys = chart.scales.y;
    ctx.save();
    ctx.strokeStyle = '#000';
    ctx.lineWidth = 2;
    ctx.beginPath();
    xTicks.forEach(function (v) {
      var px = Math.round(xs.getPixelForValue(v)) + 0.5;
      ctx.moveTo(px, area.bottom);
      ctx.lineTo(px, area.bottom - 31);
      ctx.moveTo(px, area.top);
      ctx.lineTo(px, area.top + 31);
    });
    yDecades.forEach(function (e) {
      var py = Math.round(ys.getPixelForValue(Math.pow(10, e))) + 0.5;
      var len = yLabelled.indexOf(e) >= 0 ? 31 : 16;
      ctx.moveTo(area.left, py);
      ctx.lineTo(area.left + len, py);
      ctx.moveTo(area.right, py);
      ctx.lineTo(area.right - len, py);
    });
    ctx.stroke();
    ctx.lineWidth = 2.5;
    ctx.strokeRect(area.left, area.top, area.right - area.left, area.bottom - area.top);
    ctx.restore();
  },
  afterDraw: function (chart) {
    var ctx = chart.ctx;
    var area = chart.chartArea;
    var xs = chart.scales.x;
    var ys = chart.scales.y;
    ctx.save();
    ctx.fillStyle = '#000';

    // x tick labels
    xTicks.forEach(function (v) {
      drawText(ctx, String(v), xs.getPixelForValue(v) + 9, area.bottom + 108, 72, { align: 'center' });
    });

    // y tick labels 10^n
    yLabelled.forEach(function (e) {
      var py = ys.getPixelForValue(Math.pow(10, e));
      var exp = String(e);
      ctx.font = font(58);
      var sw = ctx.measureText(exp).width;
      drawText(ctx, exp, 297, py + 1, 58, { align: 'right' });
      drawText(ctx, '10', 297 - sw - 1, py + 28, 72, { align: 'right' });
    });

    // x axis title
    ctx.save();
    ctx.translate(1066, 1793);
    drawRuns(ctx, [
      { text: 'M', size: 85 },
      { text: '\u03c7', size: 66, dy: 19, sx: 1.15 },
      { text: '0', size: 46, dy: -20, stack: true },
      { text: '1', size: 46, dy: 34 },
      { text: ' [GeV]', size: 85 }
    ], 366);
    ctx.restore();

    // y axis title, rotated
    ctx.save();
    ctx.translate(116, 1155);
    ctx.rotate(-Math.PI / 2);
    ctx.font = font(54);
    var bw = ctx.measureText('b').width;
    drawRuns(ctx, [
      { text: '\u03be', size: 80 },
      { text: '2', size: 48, dy: -34 },
      { text: ' <\u03c3v>', size: 80 },
      { text: 'bb', size: 54, dy: 17, bar: [bw + 2, -46, bw - 2, 10] },
      { text: ' [cm', size: 80 },
      { text: '3', size: 48, dy: -34 },
      { text: '/sec]', size: 80 }
    ], 687);
    ctx.restore();

    // legend, drawn in the top right corner of the plot
    var items = [chart.data.datasets[0], chart.data.datasets[2]];
    items.forEach(function (ds, i) {
      var base = 153 + i * 79;
      drawText(ctx, ds.label, 1893, base, 71, { align: 'right' });
      ctx.beginPath();
      ctx.fillStyle = ds.backgroundColor;
      ctx.arc(2018, base - 27, 12, 0, Math.PI * 2);
      ctx.fill();
      ctx.fillStyle = '#000';
    });

    // process label
    drawText(ctx, '\u03c7', 488, 625, 84, { sx: 1.25 });
    drawText(ctx, '0', 537, 593, 58);
    drawText(ctx, '1', 540, 642, 58);
    drawText(ctx, '\u03c7', 591, 625, 84, { sx: 1.25 });
    drawText(ctx, '0', 642, 593, 58);
    drawText(ctx, '1', 644, 642, 58);
    drawText(ctx, '\u2192', 695, 624, 78, { family: '"DejaVu Sans", sans-serif', weight: 'bold', maxWidth: 64 });
    drawText(ctx, 'b', 780, 625, 84);
    drawText(ctx, 'b', 823, 625, 84);
    ctx.fillRect(830, 557, 36, 10);

    // limit curve label
    drawText(ctx, 'Fermi-LAT limits', 1562, 618, 62);

    ctx.restore();
  }
};

var allowedAll = [].concat(allowedLowMass, allowedMidMass, allowedFlat, allowedZPole, allowedHiggsPole);

function denseDataset(pairs) {
  return {
    type: 'line',
    label: 'dense',
    data: toXY(pairs),
    fill: 'shape',
    backgroundColor: BLUE,
    borderColor: BLUE,
    borderWidth: 3,
    pointRadius: 8,
    pointBackgroundColor: BLUE,
    pointBorderWidth: 0,
    tension: 0,
    clip: 10,
    order: 3
  };
}

new Chart(document.getElementById('chart'), {
  type: 'scatter',
  data: {
    datasets: [
      {
        type: 'scatter',
        label: 'Current exclusion',
        data: zipXY(exclusionMass, exclusionLogSigma),
        backgroundColor: ORANGE,
        borderWidth: 0,
        pointRadius: 11.5,
        clip: 10,
        order: 0
      },
      {
        type: 'line',
        label: 'Fermi-LAT limits',
        data: zipXY(fermiMass, fermiLogSigma),
        borderColor: '#000',
        borderWidth: 6,
        pointRadius: 0,
        fill: false,
        tension: 0.3,
        clip: 10,
        order: 1
      },
      {
        type: 'scatter',
        label: 'Allowed points',
        data: toXY(allowedAll),
        backgroundColor: BLUE,
        borderWidth: 0,
        pointRadius: 8,
        clip: 10,
        order: 2
      },
      denseDataset(denseLowMass),
      denseDataset(denseMidMass),
      denseDataset(denseHiggsPole)
    ]
  },
  options: {
    responsive: false,
    animation: false,
    devicePixelRatio: 1,
    events: [],
    layout: { padding: { top: 56, right: 52, left: 0, bottom: 0 } },
    plugins: {
      legend: { display: false },
      tooltip: { enabled: false }
    },
    scales: {
      x: {
        type: 'linear',
        min: 0,
        max: 60,
        afterBuildTicks: function (scale) {
          scale.ticks = xTicks.map(function (v) { return { value: v }; });
        },
        afterFit: function (scale) { scale.height = 267; },
        ticks: { display: false },
        grid: { display: false },
        border: { display: false }
      },
      y: {
        type: 'logarithmic',
        min: 1e-34,
        max: 1e-20,
        afterBuildTicks: function (scale) {
          scale.ticks = yDecades.map(function (e) { return { value: Math.pow(10, e) }; });
        },
        afterFit: function (scale) { scale.width = 333; },
        ticks: { display: false },
        grid: { display: false },
        border: { display: false }
      }
    }
  },
  plugins: [decorations]
});
</script>
</body>
</html>
